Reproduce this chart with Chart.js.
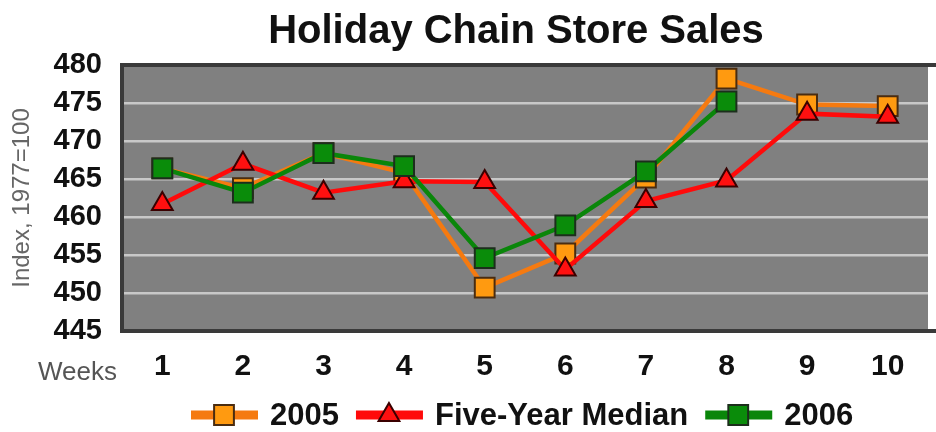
<!DOCTYPE html>
<html>
<head>
<meta charset="utf-8">
<title>Holiday Chain Store Sales</title>
<script src="https://cdn.jsdelivr.net/npm/chart.js@4.4.0/dist/chart.umd.min.js"></script>
<style>
  html, body { margin: 0; padding: 0; background: #fff; overflow: hidden; }
  #wrap { width: 944px; height: 432px; }
</style>
</head>
<body>
<div id="wrap"><canvas id="salesChart" width="944" height="432"></canvas></div>
<script>
// values
const weeks = ['1', '2', '3', '4', '5', '6', '7', '8', '9', '10'];
const sales2005 = [466.4, 463.8, 468.4, 465.8, 450.7, 455.2, 465.2, 478.2, 474.8, 474.6];
const fiveYearMedian = [461.7, 467.0, 463.2, 464.7, 464.6, 453.1, 462.1, 464.8, 473.6, 473.2];
const sales2006 = [466.4, 463.2, 468.4, 466.7, 454.6, 458.9, 466.0, 475.2, null, null];
const yMin = 445;
const yMax = 480;
const yStep = 5;

const chartTitle = 'Holiday Chain Store Sales';
const yTitle = 'Index, 1977=100';
const xTitle = 'Weeks';

const FONT = "'Liberation Sans', Arial, Helvetica, sans-serif";
Chart.defaults.font.family = FONT;

const series = [
  { label: '2005', data: sales2005, line: '#f57a10', fill: '#ff9a10', edge: '#4a2c10', style: 'rect', radius: 14, order: 2 },
  { label: 'Five-Year Median', data: fiveYearMedian, line: '#ff0a0a', fill: '#ff1010', edge: '#3a0000', style: 'triangle', radius: 12, order: 1 },
  { label: '2006', data: sales2006, line: '#0a860a', fill: '#0a8c0a', edge: '#1c2e1c', style: 'rect', radius: 14, order: 0 }
];

// grey plot background
const plotBackground = {
  id: 'plotBackground',
  beforeDraw(chart) {
    const { ctx, chartArea: a } = chart;
    ctx.save();
    ctx.fillStyle = '#808080';
    ctx.fillRect(a.left, a.top, a.right - a.left, a.bottom - a.top);
    ctx.restore();
  }
};

// dark frame round the plot
const plotFrame = {
  id: 'plotFrame',
  beforeDatasetsDraw(chart) {
    const { ctx, chartArea: a } = chart;
    ctx.save();
    ctx.strokeStyle = '#3a3a3a';
    ctx.lineWidth = 4;
    ctx.strokeRect(a.left, a.top, a.right - a.left + 10, a.bottom - a.top);
    ctx.restore();
  }
};

// title, "Weeks" and the legend with line + marker swatches
const extraText = {
  id: 'extraText',
  afterDraw(chart) {
    const { ctx } = chart;
    ctx.save();

    ctx.fillStyle = '#111';
    ctx.font = 'bold 40px ' + FONT;
    ctx.textAlign = 'center';
    ctx.textBaseline = 'alphabetic';
    ctx.fillText(chartTitle, 516, 43);

    ctx.fillStyle = '#555';
    ctx.font = '26px ' + FONT;
    ctx.textAlign = 'left';
    ctx.fillText(xTitle, 38, 380);

    let x = 191;
    const y = 415;
    ctx.font = 'bold 31px ' + FONT;
    ctx.textBaseline = 'middle';
    series.forEach(s => {
      ctx.strokeStyle = s.line;
      ctx.lineWidth = 9;
      ctx.beginPath();
      ctx.moveTo(x, y);
      ctx.lineTo(x + 67, y);
      ctx.stroke();
      ctx.fillStyle = s.fill;
      ctx.strokeStyle = s.edge;
      ctx.lineWidth = 2;
      Chart.helpers.drawPoint(ctx, { pointStyle: s.style, radius: s.radius, borderWidth: 2 }, x + 33, y);
      ctx.fillStyle = '#111';
      ctx.fillText(s.label, x + 79, y + 1);
      x += 79 + ctx.measureText(s.label).width + 17;
    });
    ctx.restore();
  }
};

const ctx = document.getElementById('salesChart').getContext('2d');
const salesChart = new Chart(ctx, {
  type: 'line',
  data: {
    labels: weeks,
    datasets: series.map(s => ({
      label: s.label,
      data: s.data,
      order: s.order,
      borderColor: s.line,
      borderWidth: 4.5,
      pointStyle: s.style,
      pointRadius: s.radius,
      pointBackgroundColor: s.fill,
      pointBorderColor: s.edge,
      pointBorderWidth: 2,
      tension: 0,
      spanGaps: false
    }))
  },
  options: {
    responsive: false,
    animation: false,
    events: [],
    layout: { padding: { top: 65, right: 0, bottom: 0, left: 0 } },
    plugins: {
      legend: { display: false },
      title: { display: false },
      tooltip: { enabled: false }
    },
    scales: {
      x: {
        offset: true,
        grid: { display: false, drawTicks: false },
        border: { display: false },
        ticks: { color: '#111', font: { size: 30, weight: 'bold' }, padding: 18, maxRotation: 0 },
        afterFit(scale) { scale.height = 101; }
      },
      y: {
        min: yMin,
        max: yMax,
        grid: { color: '#c8c8c8', lineWidth: 2.5, drawTicks: false },
        border: { display: false },
        ticks: { stepSize: yStep, autoSkip: false, color: '#111', font: { size: 29, weight: 'bold' }, padding: 20 },
        title: { display: true, text: yTitle, color: '#666', font: { size: 24 }, padding: { top: 8, bottom: 0 } },
        afterFit(scale) { scale.width = 122; }
      }
    }
  },
  plugins: [plotBackground, plotFrame, extraText]
});
</script>
</body>
</html>
